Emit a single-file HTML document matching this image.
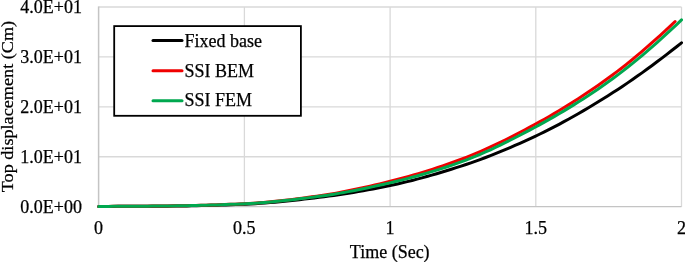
<!DOCTYPE html>
<html><head><meta charset="utf-8"><style>
html,body{margin:0;padding:0;background:#fff;}
body{width:685px;height:262px;overflow:hidden;}
svg{display:block;will-change:transform;}
text{font-family:"Liberation Serif",serif;font-size:18px;fill:#000;stroke:#000;stroke-width:0.25px;}
</style></head><body>
<svg width="685" height="262" viewBox="0 0 685 262">
<rect width="685" height="262" fill="#fff"/>
<line x1="98.7" y1="156.77" x2="681.5" y2="156.77" stroke="#d9d9d9" stroke-width="1.3"/>
<line x1="98.7" y1="106.85" x2="681.5" y2="106.85" stroke="#d9d9d9" stroke-width="1.3"/>
<line x1="98.7" y1="56.92" x2="681.5" y2="56.92" stroke="#d9d9d9" stroke-width="1.3"/>
<line x1="98.7" y1="7.00" x2="681.5" y2="7.00" stroke="#d9d9d9" stroke-width="1.3"/>
<line x1="244.40" y1="7.0" x2="244.40" y2="206.7" stroke="#d9d9d9" stroke-width="1.3"/>
<line x1="390.10" y1="7.0" x2="390.10" y2="206.7" stroke="#d9d9d9" stroke-width="1.3"/>
<line x1="535.80" y1="7.0" x2="535.80" y2="206.7" stroke="#d9d9d9" stroke-width="1.3"/>
<line x1="681.50" y1="7.0" x2="681.50" y2="206.7" stroke="#d9d9d9" stroke-width="1.3"/>
<line x1="98.60000000000001" y1="6.4" x2="98.60000000000001" y2="206.7" stroke="#c4c4c4" stroke-width="1.5"/>
<line x1="98.7" y1="206.7" x2="681.5" y2="206.7" stroke="#c4c4c4" stroke-width="1.3"/>
<polyline points="98.70,206.40 103.60,206.40 108.49,206.39 113.39,206.39 118.29,206.37 123.19,206.36 128.08,206.34 132.98,206.32 137.88,206.30 142.78,206.28 147.67,206.25 152.57,206.22 157.47,206.19 162.37,206.16 167.26,206.13 172.16,206.10 177.06,206.05 181.96,205.99 186.85,205.92 191.75,205.83 196.65,205.73 201.55,205.62 206.44,205.50 211.34,205.36 216.24,205.21 221.14,205.06 226.03,204.89 230.93,204.72 235.83,204.54 240.73,204.35 245.62,204.15 250.52,203.92 255.42,203.64 260.32,203.32 265.21,202.96 270.11,202.57 275.01,202.14 279.91,201.69 284.80,201.21 289.70,200.70 294.60,200.18 299.50,199.64 304.39,199.09 309.29,198.53 314.19,197.96 319.09,197.38 323.98,196.78 328.88,196.13 333.78,195.46 338.68,194.74 343.57,194.00 348.47,193.22 353.37,192.42 358.27,191.58 363.16,190.72 368.06,189.83 372.96,188.91 377.86,187.96 382.75,187.00 387.65,186.00 392.55,184.99 397.45,183.92 402.34,182.80 407.24,181.63 412.14,180.42 417.04,179.16 421.93,177.85 426.83,176.51 431.73,175.13 436.63,173.70 441.52,172.25 446.42,170.75 451.32,169.23 456.22,167.68 461.11,166.10 466.01,164.49 470.91,162.82 475.81,161.09 480.70,159.31 485.60,157.48 490.50,155.59 495.40,153.65 500.29,151.67 505.19,149.64 510.09,147.56 514.99,145.44 519.88,143.28 524.78,141.08 529.68,138.85 534.58,136.57 539.47,134.26 544.37,131.87 549.27,129.42 554.17,126.90 559.06,124.32 563.96,121.68 568.86,118.99 573.76,116.24 578.65,113.44 583.55,110.59 588.45,107.69 593.35,104.75 598.24,101.77 603.14,98.75 608.04,95.69 612.94,92.58 617.83,89.40 622.73,86.17 627.63,82.87 632.53,79.50 637.42,76.08 642.32,72.60 647.22,69.06 652.12,65.47 657.01,61.82 661.91,58.12 666.81,54.36 671.71,50.56 676.60,46.70 681.50,42.80" fill="none" stroke="#000" stroke-width="3" stroke-linejoin="round" stroke-linecap="round"/>
<polyline points="98.70,206.40 103.54,206.40 108.39,206.39 113.23,206.37 118.07,206.36 122.92,206.33 127.76,206.30 132.61,206.27 137.45,206.23 142.29,206.19 147.14,206.15 151.98,206.11 156.82,206.06 161.67,206.01 166.51,205.96 171.35,205.90 176.20,205.84 181.04,205.77 185.88,205.68 190.73,205.58 195.57,205.47 200.42,205.34 205.26,205.21 210.10,205.06 214.95,204.90 219.79,204.73 224.63,204.55 229.48,204.35 234.32,204.15 239.16,203.94 244.01,203.72 248.85,203.47 253.70,203.17 258.54,202.83 263.38,202.44 268.23,202.01 273.07,201.54 277.91,201.04 282.76,200.51 287.60,199.95 292.44,199.37 297.29,198.76 302.13,198.14 306.98,197.50 311.82,196.84 316.66,196.18 321.51,195.49 326.35,194.75 331.19,193.96 336.04,193.11 340.88,192.23 345.72,191.30 350.57,190.33 355.41,189.32 360.25,188.28 365.10,187.21 369.94,186.11 374.79,184.99 379.63,183.84 384.47,182.67 389.32,181.49 394.16,180.29 399.00,179.04 403.85,177.75 408.69,176.41 413.53,175.04 418.38,173.62 423.22,172.16 428.07,170.66 432.91,169.11 437.75,167.53 442.60,165.90 447.44,164.23 452.28,162.52 457.13,160.76 461.97,158.97 466.81,157.12 471.66,155.19 476.50,153.18 481.34,151.09 486.19,148.94 491.03,146.73 495.88,144.45 500.72,142.11 505.56,139.73 510.41,137.29 515.25,134.81 520.09,132.29 524.94,129.74 529.78,127.15 534.62,124.54 539.47,121.89 544.31,119.19 549.16,116.44 554.00,113.63 558.84,110.76 563.69,107.83 568.53,104.85 573.37,101.81 578.22,98.71 583.06,95.55 587.90,92.34 592.75,89.06 597.59,85.71 602.44,82.31 607.28,78.84 612.12,75.30 616.97,71.67 621.81,67.94 626.65,64.12 631.50,60.21 636.34,56.21 641.18,52.13 646.03,47.97 650.87,43.73 655.71,39.42 660.56,35.04 665.40,30.59 670.25,26.08 675.09,21.50" fill="none" stroke="#f00000" stroke-width="3" stroke-linejoin="round" stroke-linecap="round"/>
<polyline points="98.70,206.40 103.60,206.40 108.49,206.39 113.39,206.37 118.29,206.35 123.19,206.33 128.08,206.30 132.98,206.27 137.88,206.23 142.78,206.19 147.67,206.15 152.57,206.10 157.47,206.05 162.37,206.00 167.26,205.95 172.16,205.89 177.06,205.83 181.96,205.76 186.85,205.67 191.75,205.57 196.65,205.46 201.55,205.33 206.44,205.20 211.34,205.05 216.24,204.90 221.14,204.73 226.03,204.55 230.93,204.37 235.83,204.17 240.73,203.96 245.62,203.74 250.52,203.49 255.42,203.19 260.32,202.84 265.21,202.45 270.11,202.02 275.01,201.56 279.91,201.07 284.80,200.55 289.70,200.00 294.60,199.44 299.50,198.85 304.39,198.24 309.29,197.62 314.19,197.00 319.09,196.36 323.98,195.68 328.88,194.95 333.78,194.18 338.68,193.36 343.57,192.51 348.47,191.61 353.37,190.68 358.27,189.72 363.16,188.72 368.06,187.70 372.96,186.65 377.86,185.57 382.75,184.48 387.65,183.36 392.55,182.23 397.45,181.06 402.34,179.84 407.24,178.58 412.14,177.28 417.04,175.94 421.93,174.55 426.83,173.12 431.73,171.65 436.63,170.13 441.52,168.57 446.42,166.96 451.32,165.31 456.22,163.61 461.11,161.87 466.01,160.07 470.91,158.17 475.81,156.19 480.70,154.12 485.60,151.98 490.50,149.76 495.40,147.47 500.29,145.12 505.19,142.72 510.09,140.26 514.99,137.77 519.88,135.23 524.78,132.66 529.68,130.07 534.58,127.46 539.47,124.82 544.37,122.13 549.27,119.39 554.17,116.60 559.06,113.76 563.96,110.86 568.86,107.90 573.76,104.89 578.65,101.82 583.55,98.68 588.45,95.49 593.35,92.22 598.24,88.90 603.14,85.50 608.04,82.04 612.94,78.49 617.83,74.85 622.73,71.12 627.63,67.30 632.53,63.39 637.42,59.39 642.32,55.30 647.22,51.14 652.12,46.90 657.01,42.58 661.91,38.18 666.81,33.71 671.71,29.18 676.60,24.57 681.50,19.90" fill="none" stroke="#00a84f" stroke-width="3" stroke-linejoin="round" stroke-linecap="round"/>
<text transform="translate(82.00,212.50) scale(1,1.0)" text-anchor="end">0.0E+00</text>
<text transform="translate(82.00,162.57) scale(1,1.0)" text-anchor="end">1.0E+01</text>
<text transform="translate(82.00,112.65) scale(1,1.0)" text-anchor="end">2.0E+01</text>
<text transform="translate(82.00,62.72) scale(1,1.0)" text-anchor="end">3.0E+01</text>
<text transform="translate(82.00,12.80) scale(1,1.0)" text-anchor="end">4.0E+01</text>
<text transform="translate(98.60,233.80) scale(1,1.0)" text-anchor="middle">0</text>
<text transform="translate(244.30,233.80) scale(1,1.0)" text-anchor="middle">0.5</text>
<text transform="translate(390.00,233.80) scale(1,1.0)" text-anchor="middle">1</text>
<text transform="translate(535.70,233.80) scale(1,1.0)" text-anchor="middle">1.5</text>
<text transform="translate(681.40,233.80) scale(1,1.0)" text-anchor="middle">2</text>
<text transform="translate(389.70,257.80) scale(1,1.0)" text-anchor="middle">Time (Sec)</text>
<text transform="translate(13.0,106.6) rotate(-90) scale(1,0.92)" text-anchor="middle" style="font-size:18.2px">Top displacement (Cm)</text>
<rect x="114.2" y="26.1" width="186.7" height="89.7" fill="#fff" stroke="#000" stroke-width="1.8"/>
<line x1="153" y1="40.5" x2="182" y2="40.5" stroke="#000" stroke-width="3" stroke-linecap="round"/>
<line x1="153" y1="70.8" x2="182" y2="70.8" stroke="#f00000" stroke-width="3" stroke-linecap="round"/>
<line x1="153" y1="100.7" x2="182" y2="100.7" stroke="#00a84f" stroke-width="3" stroke-linecap="round"/>
<text transform="translate(184.50,46.70) scale(1,1.0)" text-anchor="start">Fixed base</text>
<text transform="translate(184.50,76.60) scale(1,1.0)" text-anchor="start">SSI BEM</text>
<text transform="translate(184.50,105.90) scale(1,1.0)" text-anchor="start">SSI FEM</text>
</svg>
</body></html>
